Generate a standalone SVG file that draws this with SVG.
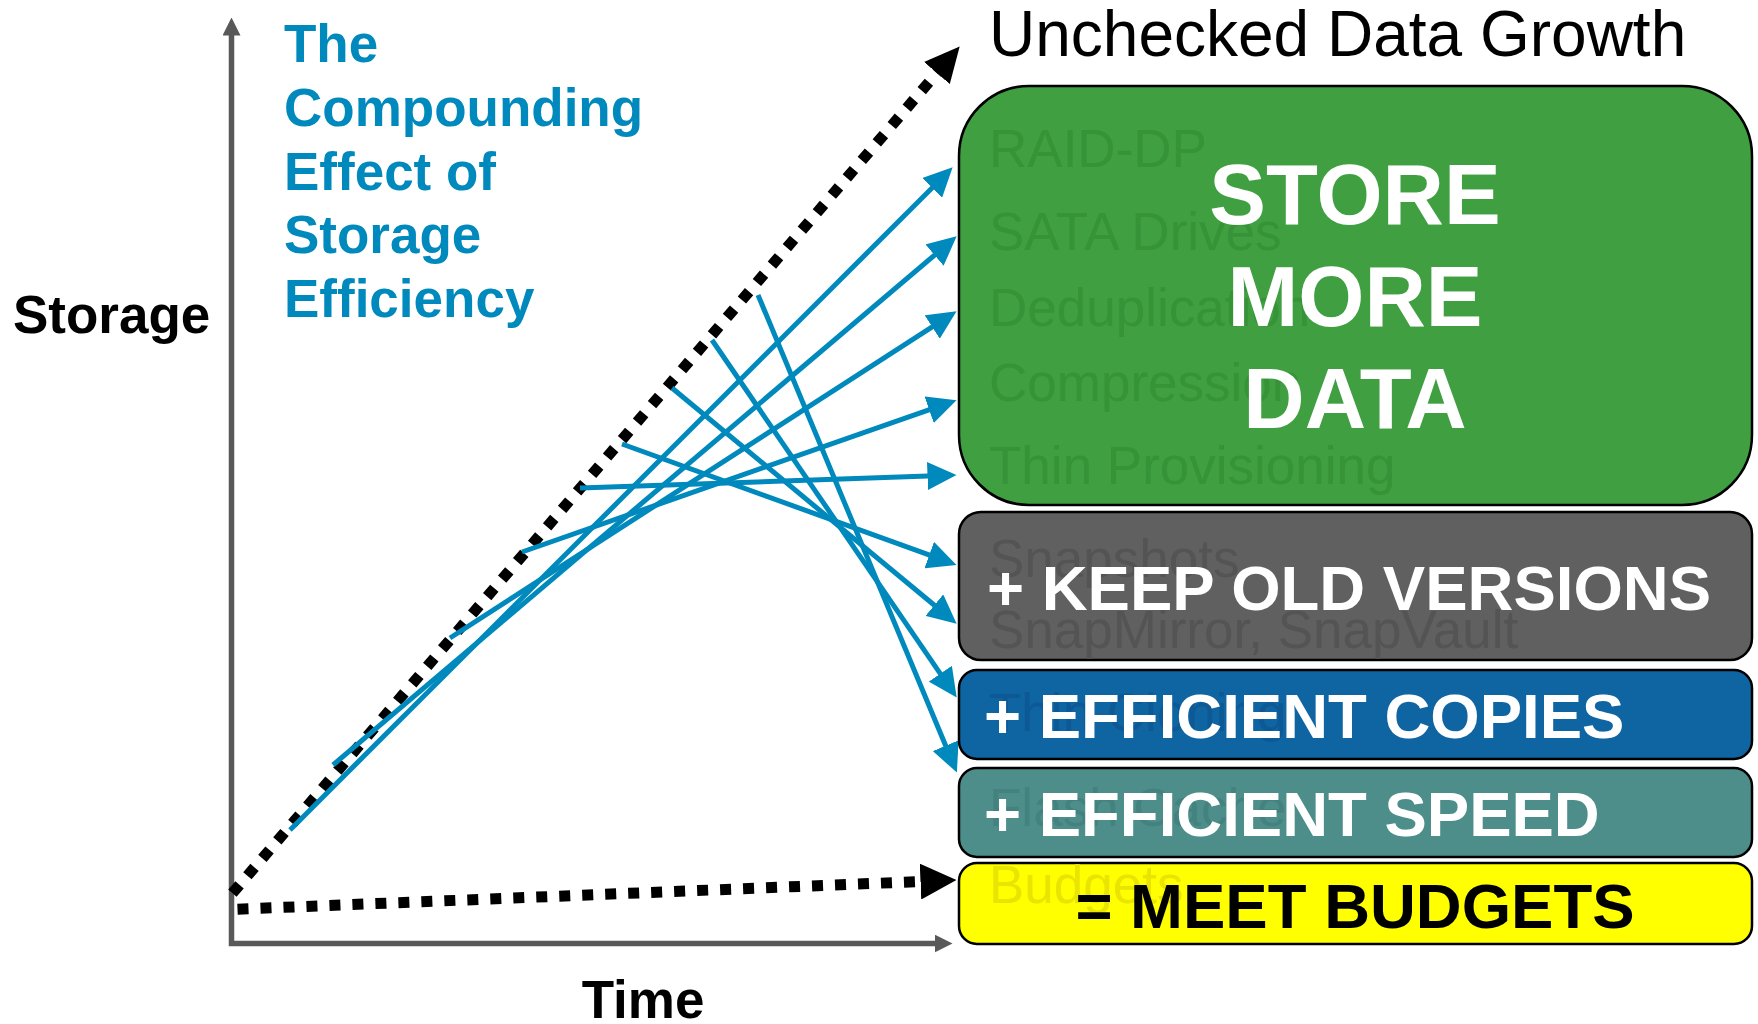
<svg xmlns="http://www.w3.org/2000/svg" width="1758" height="1024" viewBox="0 0 1758 1024">
  <style>
    text { font-family: "Liberation Sans", Arial, sans-serif; }
    .axislbl { font-size: 53px; font-weight: bold; fill: #000; }
    .title { font-size: 53px; font-weight: bold; fill: #0089BC; }
    .ghost { font-size: 53px; }
    .main { font-size: 63.5px; font-weight: bold; fill: #fff; }
    .big { font-size: 85px; font-weight: bold; fill: #fff; text-anchor: middle; }
    .box { stroke: #000; stroke-width: 2.5; }
    .blue { fill: none; stroke: #0089BC; stroke-width: 5; marker-end: url(#ab); }
    .dots { fill: none; stroke: #000; stroke-width: 11; stroke-dasharray: 11 12; }
  </style>
  <defs>
    <marker id="ab" markerUnits="userSpaceOnUse" viewBox="0 0 30 28" markerWidth="30" markerHeight="28" refX="0.5" refY="14" orient="auto">
      <path d="M0,0 L29,14 L0,28 z" fill="#0089BC"/>
    </marker>
    <marker id="ak" markerUnits="userSpaceOnUse" viewBox="0 0 36 36" markerWidth="36" markerHeight="36" refX="0.5" refY="18" orient="auto">
      <path d="M0,0 L36,18 L0,36 z" fill="#000"/>
    </marker>
    <marker id="ak2" markerUnits="userSpaceOnUse" viewBox="0 0 35 34" markerWidth="35" markerHeight="34" refX="0.5" refY="17" orient="auto">
      <path d="M0,0 L35,17 L0,34 z" fill="#000"/>
    </marker>
    <marker id="ax" markerUnits="userSpaceOnUse" viewBox="0 0 18 18" markerWidth="18" markerHeight="18" refX="0.5" refY="9" orient="auto-start-reverse">
      <path d="M0,0 L18,9 L0,18 z" fill="#595959"/>
    </marker>
  </defs>

  <g id="axes">
    <path d="M231.5,35 L231.5,943.5 L935,943.5" fill="none" stroke="#595959" stroke-width="5.5" marker-start="url(#ax)" marker-end="url(#ax)"/>
    <text class="axislbl" x="13" y="333">Storage</text>
    <text class="axislbl" x="643" y="1018" text-anchor="middle">Time</text>
  </g>

  <g id="title">
    <text class="title" x="284" y="62">The</text>
    <text class="title" x="284" y="126">Compounding</text>
    <text class="title" x="284" y="190">Effect of</text>
    <text class="title" x="284" y="253">Storage</text>
    <text class="title" x="284" y="317">Efficiency</text>
  </g>

  <g id="growth-label">
    <text x="989" y="56" font-size="64" fill="#000">Unchecked Data Growth</text>
  </g>

  <g id="connectors">
    <path class="dots" d="M232.4,893.2 L937.2,72.6" marker-end="url(#ak2)"/>
    <path class="dots" d="M237.5,909.2 L921,881.5" marker-end="url(#ak)"/>
    <path class="blue" d="M290,830 L932.5,187.5"/>
    <path class="blue" d="M333,765 L934.9,254.8"/>
    <path class="blue" d="M450,638 L932.6,326.7"/>
    <path class="blue" d="M522,552 L929.6,409.6"/>
    <path class="blue" d="M580,488 L928,476"/>
    <path class="blue" d="M622,444 L929.7,555.2"/>
    <path class="blue" d="M672,388 L934.7,605.5"/>
    <path class="blue" d="M712,340 L940.6,674.1"/>
    <path class="blue" d="M758,295 L945.9,746.2"/>
  </g>

  <g id="store-more-data">
    <rect class="box" x="959" y="86" width="793" height="419" rx="70" ry="70" fill="#3F9F41"/>
    <g class="ghost" fill="#369337">
      <text x="989" y="167">RAID-DP</text>
      <text x="989" y="250">SATA Drives</text>
      <text x="989" y="326">Deduplication</text>
      <text x="989" y="401">Compression</text>
      <text x="989" y="484">Thin Provisioning</text>
    </g>
    <text class="big" x="1355" y="224">STORE</text>
    <text class="big" x="1355" y="326">MORE</text>
    <text class="big" x="1355" y="428">DATA</text>
  </g>

  <g id="keep-old-versions">
    <rect class="box" x="959" y="512" width="793" height="148" rx="22" ry="22" fill="#606060"/>
    <g class="ghost" fill="#545454">
      <text x="989" y="577">Snapshots</text>
      <text x="989" y="648">SnapMirror, SnapVault</text>
    </g>
    <text class="main" x="987" y="610">+ KEEP OLD VERSIONS</text>
  </g>

  <g id="efficient-copies">
    <rect class="box" x="959" y="670" width="793" height="89" rx="18" ry="18" fill="#0F64A2"/>
    <text class="ghost" x="989" y="731" fill="#0C5995">Thin Cloning</text>
    <text class="main" x="984" y="738">+ EFFICIENT COPIES</text>
  </g>

  <g id="efficient-speed">
    <rect class="box" x="959" y="768" width="793" height="89" rx="18" ry="18" fill="#4D8E8B"/>
    <text class="ghost" x="989" y="826" fill="#44827F">Flash Cache</text>
    <text class="main" x="984" y="836">+ EFFICIENT SPEED</text>
  </g>

  <g id="meet-budgets">
    <rect class="box" x="959" y="863" width="793" height="81" rx="18" ry="18" fill="#FFFF00"/>
    <text class="ghost" x="989" y="903" fill="#E9E400">Budgets</text>
    <text class="main" x="1355" y="928" text-anchor="middle" style="fill:#000">= MEET BUDGETS</text>
  </g>
</svg>
